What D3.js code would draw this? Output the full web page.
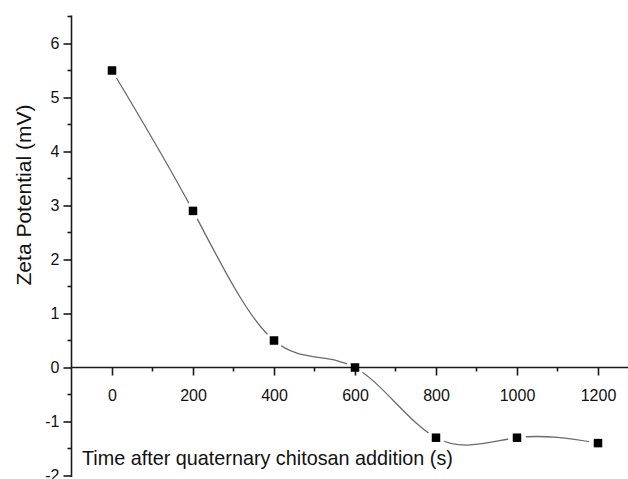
<!DOCTYPE html>
<html>
<head>
<meta charset="utf-8">
<script src="https://cdn.jsdelivr.net/npm/d3@7"></script>
<style>
  html, body { margin: 0; padding: 0; background: #fff; }
  svg { display: block; }
  text { font-family: "Liberation Sans", Arial, sans-serif; fill: #111; }
</style>
</head>
<body>
<svg id="chart" width="628" height="479"></svg>
<script>
// Data
const times = [0, 200, 400, 600, 800, 1000, 1200];
const zeta = [5.5, 2.9, 0.5, 0.0, -1.3, -1.3, -1.4];
const xTickValues = [0, 200, 400, 600, 800, 1000, 1200];
const xMinorValues = [100, 300, 500, 700, 900, 1100];
const yTickValues = [-2, -1, 0, 1, 2, 3, 4, 5, 6];
const yMinorValues = [-1.5, -0.5, 0.5, 1.5, 2.5, 3.5, 4.5, 5.5, 6.5];
const xTitle = "Time after quaternary chitosan addition (s)";
const yTitle = "Zeta Potential (mV)";

const svg = d3.select("#chart");

const x = d3.scaleLinear().domain([-100, 1300]).range([71.5, 638.5]);
const y = d3.scaleLinear().domain([-2, 6.5]).range([475.5, 16.5]);

const axisColor = "#1a1a1a";
const fmt = d => String(d);

// Y axis
const yAxis = d3.axisLeft(y).tickValues(yTickValues).tickSize(8).tickPadding(4)
  .tickFormat(fmt);
const gy = svg.append("g").attr("transform", `translate(${x(-100)},0)`).call(yAxis);
gy.select(".domain").remove();
gy.selectAll(".tick line").attr("stroke", axisColor).attr("stroke-width", 1.6);
gy.selectAll(".tick text").attr("font-size", 16).attr("fill", "#111")
  .attr("font-family", "Liberation Sans, Arial, sans-serif");
gy.selectAll(".minor").data(yMinorValues).enter().append("line")
  .attr("x1", -4).attr("x2", 0)
  .attr("y1", d => y(d)).attr("y2", d => y(d))
  .attr("stroke", axisColor).attr("stroke-width", 1.6);
gy.append("line").attr("x1", 0).attr("x2", 0)
  .attr("y1", y(6.5) - 1).attr("y2", y(-2) + 1.5)
  .attr("stroke", axisColor).attr("stroke-width", 1.6);

// X axis at y = 0
const xAxis = d3.axisBottom(x).tickValues(xTickValues).tickSize(8).tickPadding(14)
  .tickFormat(fmt);
const gx = svg.append("g").attr("transform", `translate(0,${y(0)})`).call(xAxis);
gx.select(".domain").remove();
gx.selectAll(".tick line").attr("stroke", axisColor).attr("stroke-width", 1.6);
gx.selectAll(".tick text").attr("font-size", 16).attr("fill", "#111")
  .attr("font-family", "Liberation Sans, Arial, sans-serif");
gx.selectAll(".minor").data(xMinorValues).enter().append("line")
  .attr("x1", d => x(d)).attr("x2", d => x(d))
  .attr("y1", 0).attr("y2", 4)
  .attr("stroke", axisColor).attr("stroke-width", 1.6);
gx.append("line").attr("x1", x(-100)).attr("x2", x(1300))
  .attr("y1", 0).attr("y2", 0)
  .attr("stroke", axisColor).attr("stroke-width", 1.6);

// Mask to leave gaps in the curve around the markers
const data = times.map((t, i) => ({ t, v: zeta[i] }));
const defs = svg.append("defs");
const mask = defs.append("mask").attr("id", "gapMask")
  .attr("maskUnits", "userSpaceOnUse")
  .attr("x", 0).attr("y", 0).attr("width", 628).attr("height", 479);
mask.append("rect").attr("width", 628).attr("height", 479).attr("fill", "#fff");
mask.selectAll("circle").data(data).enter().append("circle")
  .attr("cx", d => x(d.t)).attr("cy", d => y(d.v)).attr("r", 9).attr("fill", "#000");

// Spline curve
const line = d3.line().x(d => x(d.t)).y(d => y(d.v)).curve(d3.curveNatural);
svg.append("path").datum(data)
  .attr("d", line)
  .attr("fill", "none")
  .attr("stroke", "#6a6a6a")
  .attr("stroke-width", 1.3)
  .attr("mask", "url(#gapMask)");

// Markers
const ms = 8.5;
svg.selectAll(".pt").data(data).enter().append("rect")
  .attr("class", "pt")
  .attr("x", d => x(d.t) - ms / 2).attr("y", d => y(d.v) - ms / 2)
  .attr("width", ms).attr("height", ms)
  .attr("fill", "#000");

// Axis titles
svg.append("text")
  .attr("x", 82).attr("y", 465)
  .attr("font-size", 19.8)
  .text(xTitle);

svg.append("text")
  .attr("transform", `translate(31,195) rotate(-90)`)
  .attr("text-anchor", "middle")
  .attr("font-size", 21)
  .text(yTitle);
</script>
</body>
</html>
